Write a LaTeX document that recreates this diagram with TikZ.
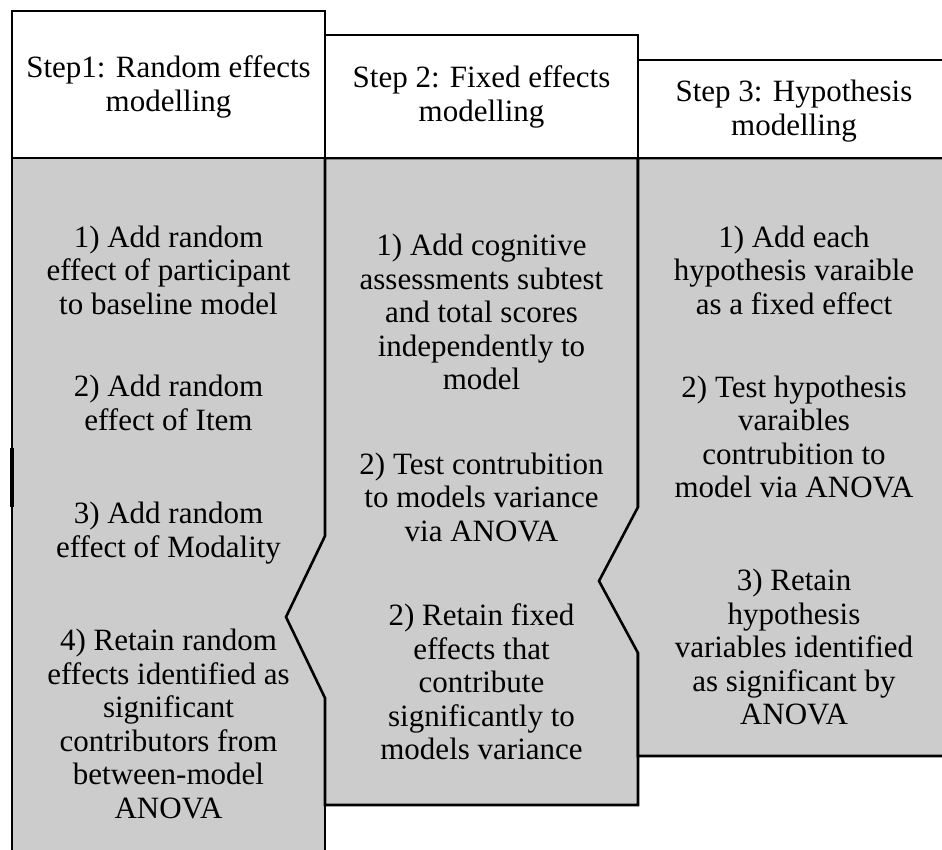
\documentclass[tikz,border=0pt]{standalone}
\usepackage{fontspec}
\setmainfont{Liberation Serif}
\definecolor{bodygray}{HTML}{CCCCCC}
\begin{document}
\begin{tikzpicture}[x=1pt,y=-1pt,
  border/.style={draw=black,line width=2.6pt,line join=miter},
  bodyfill/.style={fill=bodygray},
  head/.style={border,fill=white},
  txt/.style={align=center,inner sep=0pt,font=\fontsize{31}{33.5}\selectfont},
]
\useasboundingbox (0,0) rectangle (942,849);
\clip (0,0) rectangle (942,849);
% column 1 body
\path[bodyfill] (12,158) rectangle (325,870);
\draw[border] (12,870) -- (12,158);
\draw[border] (325,700) -- (325,870);
\draw[line width=4.6pt] (12,448) -- (12,507);
% column 2 body with chevron
\path[bodyfill,border] (325,158) -- (638,158) -- (638,805) -- (325,805) -- (325,698) -- (286,617) -- (325,536) -- cycle;
% column 3 body with chevron
\path[bodyfill,border] (638,158) -- (960,158) -- (960,756) -- (638,756) -- (638,653) -- (599,581) -- (638,507) -- cycle;
% headers
\path[head] (12,11) rectangle (325,158);
\path[head] (325,35) rectangle (638,158);
\path[head] (638,60) rectangle (960,158);
\node[txt] (h1) at (168.5,87) {Step1: Random effects\\modelling};
\node[txt] (h2) at (481.5,97) {Step 2: Fixed effects\\modelling};
\node[txt] (h3) at (794,111) {Step 3: Hypothesis\\modelling};
% column 1 text
\node[txt] (a1) at (168.5,270) {1) Add random\\effect of participant\\to baseline model};
\node[txt] (a2) at (168.5,403) {2) Add random\\effect of Item};
\node[txt] (a3) at (168.5,533) {3) Add random\\effect of Modality};
\node[txt] (a4) at (168.5,724) {4) Retain random\\effects identified as\\significant\\contributors from\\between-model\\ANOVA};
% column 2 text
\node[txt] (b1) at (481.5,312) {1) Add cognitive\\assessments subtest\\and total scores\\independently to\\model};
\node[txt] (b2) at (481.5,497) {2) Test contrubition\\to models variance\\via ANOVA};
\node[txt] (b3) at (481.5,682) {2) Retain fixed\\effects that\\contribute\\significantly to\\models variance};
% column 3 text
\node[txt] (c1) at (794,270) {1) Add each\\hypothesis varaible\\as a fixed effect};
\node[txt] (c2) at (794,437) {2) Test hypothesis\\varaibles\\contrubition to\\model via ANOVA};
\node[txt] (c3) at (794,647) {3) Retain\\hypothesis\\variables identified\\as significant by\\ANOVA};
\end{tikzpicture}
\end{document}
